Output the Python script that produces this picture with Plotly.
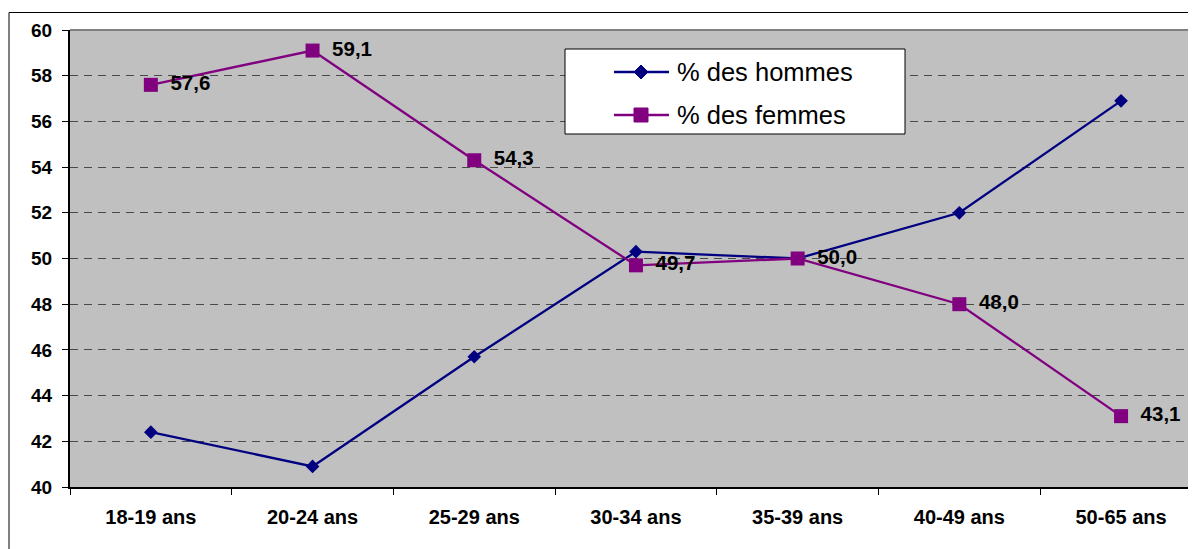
import plotly.graph_objects as go

categories = ["18-19 ans", "20-24 ans", "25-29 ans", "30-34 ans", "35-39 ans", "40-49 ans", "50-65 ans"]
hommes = [42.4, 40.9, 45.7, 50.3, 50.0, 52.0, 56.9]
femmes = [57.6, 59.1, 54.3, 49.7, 50.0, 48.0, 43.1]
femmes_labels = ["57,6", "59,1", "54,3", "49,7", "50,0", "48,0", "43,1"]
series_names = ["% des hommes", "% des femmes"]
y_ticks = [40, 42, 44, 46, 48, 50, 52, 54, 56, 58, 60]

# page has an 8px body margin: figure occupies page pixels 8..1196 x 8..549
OFF = 8
W, H = 1196 - OFF, 549 - OFF
L, T, B = 70 - OFF, 30 - OFF, 487 - OFF
PW = W - L
PH = B - T

def px(x):
    return (x - OFF - L) / PW

def py(y):
    return (B - (y - OFF)) / PH

NAVY = "#000080"
PURPLE = "#800080"
FONT = "Arial, Liberation Sans, sans-serif"

fig = go.Figure()
fig.add_trace(go.Scatter(
    x=categories, y=hommes, mode="lines+markers", name=series_names[0],
    line=dict(color=NAVY, width=2.3),
    marker=dict(symbol="diamond", size=10.5, color=NAVY),
    showlegend=False,
))
fig.add_trace(go.Scatter(
    x=categories, y=femmes, mode="lines+markers+text", name=series_names[1],
    line=dict(color=PURPLE, width=2.3),
    marker=dict(symbol="square", size=14, color=PURPLE),
    text=["\u00a0\u2009" + s for s in femmes_labels], textposition="middle right",
    textfont=dict(family=FONT, size=20.5, color="black", weight="bold"),
    showlegend=False,
))

cat_w = 161.7
x_hi = -0.5 + PW / cat_w

shapes = [
    # outer chart border
    dict(type="rect", xref="paper", yref="paper", x0=px(9), x1=1.2, y0=-0.5, y1=py(12.5),
         line=dict(color="black", width=1), fillcolor="rgba(0,0,0,0)", layer="below"),
    # top border of plot area
    dict(type="line", xref="paper", yref="paper", x0=0, x1=1, y0=1, y1=1,
         line=dict(color="#808080", width=2), layer="above"),
    # legend box
    dict(type="rect", xref="paper", yref="paper", x0=px(565), x1=px(905), y0=py(134), y1=py(49),
         line=dict(color="black", width=1), fillcolor="white", layer="above"),
]
annotations = []
leg_rows = [(72, NAVY, "diamond", series_names[0]), (115, PURPLE, "square", series_names[1])]
for yy, col, sym, name in leg_rows:
    shapes.append(dict(type="line", xref="paper", yref="paper", x0=px(614), x1=px(669),
                       y0=py(yy), y1=py(yy), line=dict(color=col, width=2.3), layer="above"))
    if sym == "diamond":
        shapes.append(dict(type="path", xref="paper", yref="paper", xsizemode="pixel", ysizemode="pixel",
                           xanchor=px(641), yanchor=py(yy),
                           path="M -7 0 L 0 7 L 7 0 L 0 -7 Z",
                           fillcolor=col, line=dict(color=col, width=1), layer="above"))
    else:
        shapes.append(dict(type="rect", xref="paper", yref="paper", xsizemode="pixel", ysizemode="pixel",
                           xanchor=px(641), yanchor=py(yy), x0=-7, x1=7, y0=-7, y1=7,
                           fillcolor=col, line=dict(color=col, width=1), layer="above"))
    annotations.append(dict(xref="paper", yref="paper", x=px(675), y=py(yy), text=name,
                            showarrow=False, xanchor="left", yanchor="middle",
                            font=dict(family=FONT, size=25.5, color="black")))

fig.update_layout(
    width=W, height=H,
    margin=dict(l=L, r=0, t=T, b=H - B, pad=0),
    paper_bgcolor="white",
    plot_bgcolor="#C0C0C0",
    showlegend=False,
    shapes=shapes,
    annotations=annotations,
    xaxis=dict(
        type="category", range=[-0.5, x_hi], showgrid=False, zeroline=False,
        showline=True, linecolor="black", linewidth=2,
        ticks="outside", tickson="boundaries", ticklen=6, tickwidth=1, tickcolor="black",
        tickfont=dict(family=FONT, size=20, color="black", weight="bold"),
        ticklabelstandoff=11,
    ),
    yaxis=dict(
        range=[40, 60], tickvals=y_ticks, showgrid=True, gridcolor="#4a4a4a", griddash="8px,6px", gridwidth=1,
        zeroline=False, showline=True, linecolor="black", linewidth=2,
        ticks="outside", ticklen=6, tickwidth=1, tickcolor="black",
        tickfont=dict(family=FONT, size=19, color="black", weight="bold"),
        ticklabelstandoff=6,
    ),
)

fig.write_html("out.html")
